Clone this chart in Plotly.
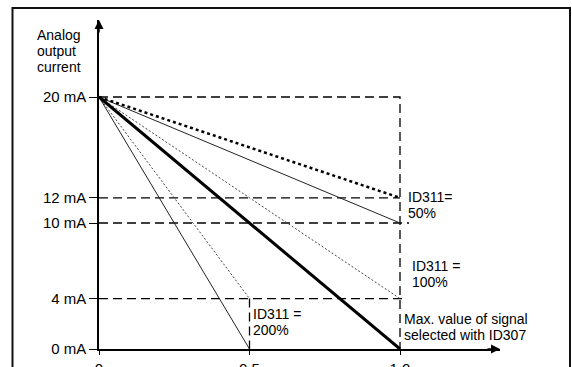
import plotly.graph_objects as go

# Signal level (fraction of the max. value selected with ID307) and output current in mA
x_ticks = [0, 0.5, 1.0]
x_ticklabels = ["0", "0.5", "1.0"]
y_ticks = [0, 4, 10, 12, 20]
y_ticklabels = ["0 mA", "4 mA", "10 mA", "12 mA", "20 mA"]

# Inverted output curves for the different ID311 scaling settings
scale50_live_x = [0.0, 1.0]
scale50_live_y = [20, 12]
scale50_x = [0.0, 1.0]
scale50_y = [20, 10]
scale100_live_x = [0.0, 1.0]
scale100_live_y = [20, 4]
scale100_x = [0.0, 1.0]
scale100_y = [20, 0]
scale200_live_x = [0.0, 0.5]
scale200_live_y = [20, 4]
scale200_x = [0.0, 0.5]
scale200_y = [20, 0]

# Dashed reference levels
ref20_x = [0.0, 1.0, 1.0]
ref20_y = [20, 20, 0]
ref12_x = [0.0, 1.0]
ref12_y = [12, 12]
ref10_x = [0.0, 1.03]
ref10_y = [10, 10]
ref4_x = [0.0, 1.02]
ref4_y = [4, 4]
ref_half_x = [0.5, 0.5]
ref_half_y = [4, 0]

W, H = 572, 367
L, R, T, B = 99, 72, 20, 18
PW, PH = W - L - R, H - T - B
PX_PER_X = 301.0
PX_PER_Y = 12.6
X_MAX = PW / PX_PER_X
Y_MAX = PH / PX_PER_Y


def px_to_paper_x(px):
    return (px - L) / PW


def px_to_paper_y(py):
    return (H - B - py) / PH


FONT = "Liberation Sans, Arial, Helvetica, sans-serif"
fig = go.Figure()

dash_guide = dict(color="black", width=1.3, dash="9px,5px")
for gx, gy in [(ref20_x, ref20_y), (ref12_x, ref12_y), (ref10_x, ref10_y),
               (ref4_x, ref4_y), (ref_half_x, ref_half_y)]:
    fig.add_trace(go.Scatter(x=gx, y=gy, mode="lines", line=dash_guide,
                             hoverinfo="skip", showlegend=False))

thin_dot = dict(color="#444", width=1, dash="2px,2px")
thin_solid = dict(color="#222", width=1)
fig.add_trace(go.Scatter(x=scale100_live_x, y=scale100_live_y, mode="lines", line=thin_dot, showlegend=False))
fig.add_trace(go.Scatter(x=scale200_live_x, y=scale200_live_y, mode="lines", line=thin_dot, showlegend=False))
fig.add_trace(go.Scatter(x=scale50_x, y=scale50_y, mode="lines", line=thin_solid, showlegend=False))
fig.add_trace(go.Scatter(x=scale200_x, y=scale200_y, mode="lines", line=thin_solid, showlegend=False))
fig.add_trace(go.Scatter(x=scale50_live_x, y=scale50_live_y, mode="lines",
                         line=dict(color="black", width=2.5, dash="3px,3px"), showlegend=False))
fig.add_trace(go.Scatter(x=scale100_x, y=scale100_y, mode="lines",
                         line=dict(color="black", width=3), showlegend=False))

axis_font = dict(family=FONT, size=15, color="black")
note_font = dict(family=FONT, size=14, color="black")
labels = [
    ("Analog", 35, 35), ("output", 35, 51), ("current", 35, 67),
    ("ID311=", 406, 197), ("50%", 406, 213),
    ("ID311 =", 410, 266), ("100%", 410, 282),
    ("ID311 =", 251, 314), ("200%", 251, 330),
    ("Max. value of signal", 402, 319), ("selected with ID307", 402, 335),
]
for text, px, py in labels:
    fig.add_annotation(xref="paper", yref="paper",
                       x=px_to_paper_x(px), y=px_to_paper_y(py), text=text,
                       showarrow=False, xanchor="left", yanchor="middle",
                       font=note_font)

# Axis arrowheads
fig.add_annotation(x=0, y=Y_MAX, ax=0, ay=14, axref="pixel", ayref="pixel",
                   text="", showarrow=True, arrowhead=2, arrowsize=1.2,
                   arrowwidth=1.5, arrowcolor="black", standoff=0)
fig.add_annotation(x=X_MAX, y=0, ax=-14, ay=0, axref="pixel", ayref="pixel",
                   text="", showarrow=True, arrowhead=2, arrowsize=1.2,
                   arrowwidth=1.5, arrowcolor="black", standoff=0)

# Outer frame
fig.add_shape(type="rect", xref="paper", yref="paper",
              x0=px_to_paper_x(12.5), x1=px_to_paper_x(570),
              y0=px_to_paper_y(390), y1=px_to_paper_y(8),
              line=dict(color="#111", width=2), layer="above")

fig.update_layout(
    width=W, height=H,
    margin=dict(l=L, r=R, t=T, b=B, autoexpand=False),
    paper_bgcolor="white", plot_bgcolor="white",
    font=axis_font,
    xaxis=dict(range=[0, X_MAX], tickvals=x_ticks, ticktext=x_ticklabels,
               showgrid=False, zeroline=False, showline=True, automargin=False,
               linecolor="black", linewidth=1.5, ticks="outside",
               ticklen=4, tickwidth=1.2, tickcolor="black",
               ticklabelstandoff=1, tickfont=axis_font),
    yaxis=dict(range=[0, Y_MAX], tickvals=y_ticks, ticktext=y_ticklabels,
               showgrid=False, zeroline=False, showline=True, automargin=False,
               linecolor="black", linewidth=1.5, ticks="outside",
               ticklen=8, tickwidth=1.2, tickcolor="black",
               tickfont=axis_font),
)

fig.write_html("out.html")
